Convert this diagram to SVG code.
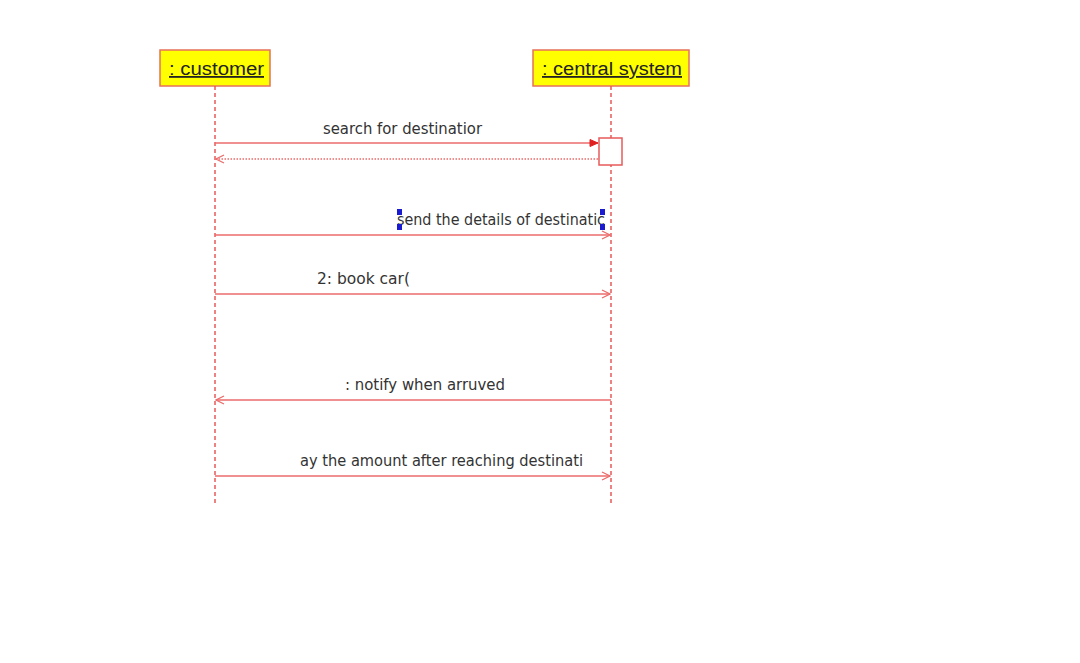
<svg xmlns="http://www.w3.org/2000/svg" width="1080" height="663" viewBox="0 0 1080 663">
<style>
.head{fill:#ffff00;stroke:#e8705a;stroke-width:1.5}
.htxt{font-family:"Liberation Sans",Arial,sans-serif;font-size:18px;fill:#222;text-decoration:underline}
.life{stroke:#e85a5a;stroke-width:1.5;stroke-dasharray:4,3;fill:none}
.msg{stroke:#ec6b6b;stroke-width:1.5;fill:none}
.ret{stroke:#ec6b6b;stroke-width:1.5;stroke-dasharray:1.5,1.5;fill:none}
.lbl{font-family:"DejaVu Sans",Tahoma,sans-serif;font-size:16px;fill:#333}
.hdl{fill:#1a1ad0}
</style>
<defs>
<marker id="open" markerWidth="10" markerHeight="10" refX="9" refY="5" orient="auto" markerUnits="userSpaceOnUse">
<path d="M1,1 L9,5 L1,9" fill="none" stroke="#ec6b6b" stroke-width="1.3"/>
</marker>
<marker id="filled" markerWidth="10" markerHeight="10" refX="9" refY="5" orient="auto" markerUnits="userSpaceOnUse">
<path d="M1,1.5 L9,5 L1,8.5 Z" fill="#e02020" stroke="#e02020" stroke-width="1"/>
</marker>
</defs>
<rect width="1080" height="663" fill="#ffffff"/>
<g id="customer">
<rect class="head" x="160" y="50" width="110" height="36"/>
<text class="htxt" x="169" y="75" textLength="95" lengthAdjust="spacingAndGlyphs"> : customer</text>
<line class="life" x1="215" y1="86" x2="215" y2="506"/>
</g>
<g id="central_system">
<rect class="head" x="533" y="50" width="156" height="36"/>
<text class="htxt" x="542" y="75" textLength="140" lengthAdjust="spacingAndGlyphs"> : central system</text>
<line class="life" x1="611" y1="86" x2="611" y2="506"/>
<rect id="activation" x="599" y="138" width="23" height="27" fill="#ffffff" stroke="#e85a5a" stroke-width="1.5"/>
</g>
<g id="connectors">
<line class="msg" x1="215" y1="143" x2="598" y2="143" marker-end="url(#filled)"/>
<text class="lbl" x="323" y="134" textLength="159" lengthAdjust="spacingAndGlyphs">search for destinatior</text>
<line class="ret" x1="598" y1="159" x2="216" y2="159" marker-end="url(#open)"/>
<line class="msg" x1="215" y1="235" x2="610" y2="235" marker-end="url(#open)"/>
<text class="lbl" x="397" y="225" textLength="208" lengthAdjust="spacingAndGlyphs">send the details of destinatic</text>
<rect class="hdl" x="397" y="209" width="5" height="6"/>
<rect class="hdl" x="397" y="224" width="5" height="6"/>
<rect class="hdl" x="600" y="209" width="5" height="6"/>
<rect class="hdl" x="600" y="224" width="5" height="6"/>
<line class="msg" x1="215" y1="294" x2="610" y2="294" marker-end="url(#open)"/>
<text class="lbl" x="317" y="284" textLength="93" lengthAdjust="spacingAndGlyphs">2: book car(</text>
<line class="msg" x1="611" y1="400" x2="216" y2="400" marker-end="url(#open)"/>
<text class="lbl" x="345" y="390" textLength="160" lengthAdjust="spacingAndGlyphs">: notify when arruved</text>
<line class="msg" x1="215" y1="476" x2="610" y2="476" marker-end="url(#open)"/>
<text class="lbl" x="300" y="466" textLength="283" lengthAdjust="spacingAndGlyphs">ay the amount after reaching destinati</text>
</g>
</svg>
